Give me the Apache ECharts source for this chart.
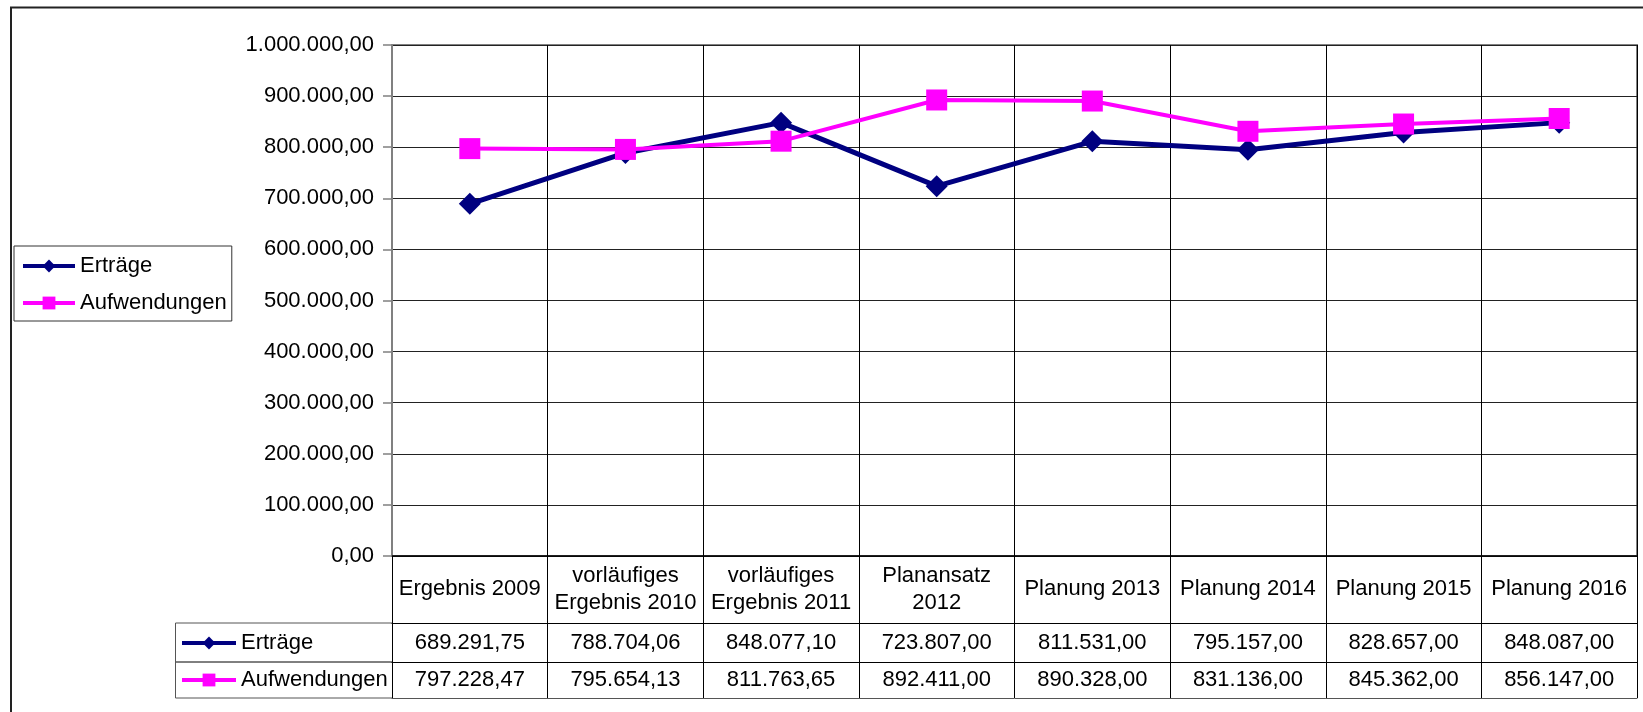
<!DOCTYPE html>
<html>
<head>
<meta charset="utf-8">
<script src="https://cdn.jsdelivr.net/npm/echarts@6/dist/echarts.min.js"></script>
<style>
html,body{margin:0;padding:0;background:#fff;}
#c{width:1643px;height:712px;}
</style>
</head>
<body>
<div id="c"></div>
<script>
const categories = ['Ergebnis 2009', 'vorläufiges\nErgebnis 2010', 'vorläufiges\nErgebnis 2011', 'Planansatz\n2012', 'Planung 2013', 'Planung 2014', 'Planung 2015', 'Planung 2016'];
const ertraege = [689291.75, 788704.06, 848077.10, 723807.00, 811531.00, 795157.00, 828657.00, 848087.00];
const aufwendungen = [797228.47, 795654.13, 811763.65, 892411.00, 890328.00, 831136.00, 845362.00, 856147.00];
const seriesNames = ['Erträge', 'Aufwendungen'];
const yMin = 0, yMax = 1000000, yStep = 100000;

function de(v) {
  const parts = v.toFixed(2).split('.');
  parts[0] = parts[0].replace(/\B(?=(\d{3})+(?!\d))/g, '.');
  return parts[0] + ',' + parts[1];
}

const FONT = 'Liberation Sans, Arial, sans-serif';
const FS = 22;
const gridTop = 45, gridBottomY = 556, gridLeft = 392, gridRight = 1637;
const row1 = 623, row2 = 662, row3 = 698;

const chart = echarts.init(document.getElementById('c'), null, {renderer: 'canvas'});

function tableAxis(data, offset, tickLen, margin, showLabel) {
  return {
    type: 'category', position: 'bottom', data: data, offset: offset,
    boundaryGap: true,
    axisLine: {show: true, lineStyle: {color: '#000', width: 1}},
    axisTick: {show: true, length: tickLen, interval: 0, lineStyle: {color: '#000', width: 1}},
    axisLabel: {show: showLabel, interval: 0, margin: margin, verticalAlign: 'middle', color: '#000', fontFamily: FONT, fontSize: FS, lineHeight: 27},
    splitLine: {show: false}
  };
}

const option = {
  backgroundColor: '#fff',
  animation: false,
  textStyle: {fontFamily: FONT},
  grid: {left: gridLeft, right: 1643 - gridRight, top: gridTop, bottom: 712 - gridBottomY, show: true, borderColor: '#808080', borderWidth: 2, backgroundColor: 'transparent'},
  legend: [
    {
      data: seriesNames, orient: 'vertical', left: 14, top: 246,
      padding: [9, 5, 7, 7], itemGap: 15, itemWidth: 52, itemHeight: 16,
      borderColor: '#333', borderWidth: 1, backgroundColor: '#fff',
      lineStyle: {width: 4},
      textStyle: {color: '#000', fontFamily: FONT, fontSize: FS, lineHeight: 22},
      selectedMode: false
    },
    {
      data: seriesNames, orient: 'vertical', left: 180, top: 632,
      padding: 0, itemGap: 15, itemWidth: 54, itemHeight: 16,
      lineStyle: {width: 4},
      textStyle: {color: '#000', fontFamily: FONT, fontSize: FS, lineHeight: 22},
      selectedMode: false
    }
  ],
  xAxis: [
    {
      type: 'category', position: 'bottom', data: categories, boundaryGap: true,
      axisLine: {show: true, lineStyle: {color: '#000', width: 1.5}},
      axisTick: {show: true, length: row1 - gridBottomY, interval: 0, lineStyle: {color: '#000', width: 1}},
      axisLabel: {interval: 0, margin: 33, verticalAlign: 'middle', color: '#000', fontFamily: FONT, fontSize: FS, lineHeight: 27},
      splitLine: {show: true, interval: 0, lineStyle: {color: '#000', width: 1}}
    },
    tableAxis(ertraege.map(de), row1 - gridBottomY, row2 - row1, 20, true),
    tableAxis(aufwendungen.map(de), row2 - gridBottomY, row3 - row2, 18, true),
    Object.assign(tableAxis(categories, row3 - gridBottomY, 0, 0, false), {axisTick: {show: false}, axisLine: {show: true, lineStyle: {color: '#555', width: 1}}})
  ],
  yAxis: {
    type: 'value', min: yMin, max: yMax, interval: yStep,
    axisLine: {show: true, lineStyle: {color: '#808080', width: 2}},
    axisTick: {show: true, length: 9, lineStyle: {color: '#808080', width: 1.5}},
    axisLabel: {margin: 18, color: '#000', fontFamily: FONT, fontSize: FS, formatter: v => de(v)},
    splitLine: {show: true, lineStyle: {color: '#222', width: 1}}
  },
  series: [
    {
      name: seriesNames[0], type: 'line', data: ertraege,
      symbol: 'diamond', symbolSize: 22,
      lineStyle: {color: '#000080', width: 5},
      itemStyle: {color: '#000080'},
      z: 3
    },
    {
      name: seriesNames[1], type: 'line', data: aufwendungen,
      symbol: 'rect', symbolSize: 21,
      lineStyle: {color: '#FF00FF', width: 4},
      itemStyle: {color: '#FF00FF'},
      z: 4
    }
  ],
  graphic: [
    {type: 'rect', shape: {x: 11, y: 7.5, width: 1700, height: 800}, style: {fill: 'none', stroke: '#222', lineWidth: 2}, silent: true, z: 100},
    {type: 'line', shape: {x1: 175.5, y1: row1, x2: gridLeft, y2: row1}, style: {stroke: '#555', lineWidth: 1}, silent: true},
    {type: 'line', shape: {x1: 175.5, y1: row2, x2: gridLeft, y2: row2}, style: {stroke: '#000', lineWidth: 1}, silent: true},
    {type: 'line', shape: {x1: 175.5, y1: row3, x2: gridLeft, y2: row3}, style: {stroke: '#555', lineWidth: 1}, silent: true},
    {type: 'line', shape: {x1: 175.5, y1: row1, x2: 175.5, y2: row3}, style: {stroke: '#555', lineWidth: 1}, silent: true}
  ]
};
chart.setOption(option);
</script>
</body>
</html>
